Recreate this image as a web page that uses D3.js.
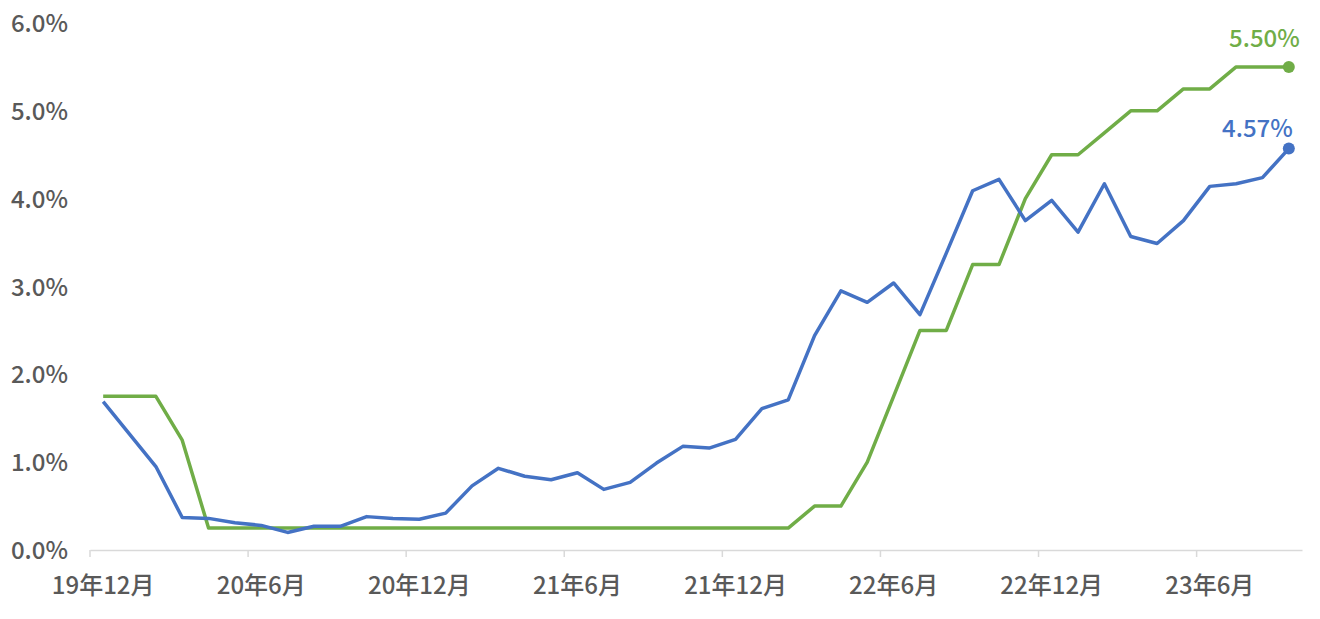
<!DOCTYPE html>
<html>
<head>
<meta charset="utf-8">
<script src="https://cdn.jsdelivr.net/npm/d3@7"></script>
<style>
  body { margin: 0; background: #fff; }
  svg text { font-family: "Noto Sans CJK JP", "Noto Sans", sans-serif; }
</style>
</head>
<body>
<script>
// month categories, 19年12月 .. 23年9月
months = [
    "19年12月",
    "20年1月", "20年2月", "20年3月", "20年4月", "20年5月", "20年6月",
    "20年7月", "20年8月", "20年9月", "20年10月", "20年11月", "20年12月",
    "21年1月", "21年2月", "21年3月", "21年4月", "21年5月", "21年6月",
    "21年7月", "21年8月", "21年9月", "21年10月", "21年11月", "21年12月",
    "22年1月", "22年2月", "22年3月", "22年4月", "22年5月", "22年6月",
    "22年7月", "22年8月", "22年9月", "22年10月", "22年11月", "22年12月",
    "23年1月", "23年2月", "23年3月", "23年4月", "23年5月", "23年6月",
    "23年7月", "23年8月", "23年9月"
];

blueValues = [
    1.69, 1.32, 0.95, 0.37, 0.36, 0.31, 0.28, 0.20, 0.27, 0.27,
    0.38, 0.36, 0.35, 0.42, 0.73, 0.93, 0.84, 0.80, 0.88, 0.69,
    0.77, 0.99, 1.18, 1.16, 1.26, 1.61, 1.71, 2.44, 2.95, 2.82,
    3.04, 2.68, 3.38, 4.09, 4.22, 3.75, 3.98, 3.62, 4.17, 3.57,
    3.49, 3.75, 4.14, 4.17, 4.24, 4.57
];

greenValues = [
    1.75, 1.75, 1.75, 1.25, 0.25, 0.25, 0.25, 0.25, 0.25, 0.25,
    0.25, 0.25, 0.25, 0.25, 0.25, 0.25, 0.25, 0.25, 0.25, 0.25,
    0.25, 0.25, 0.25, 0.25, 0.25, 0.25, 0.25, 0.50, 0.50, 1.00,
    1.75, 2.50, 2.50, 3.25, 3.25, 4.00, 4.50, 4.50, 4.75, 5.00,
    5.00, 5.25, 5.25, 5.50, 5.50, 5.50
];

yTicks = [0, 1, 2, 3, 4, 5, 6];
endLabels = ["4.57%", "5.50%"];

var width = 1320, height = 619;
var textColor = "#595959";

var svg = d3.select("body").append("svg")
    .attr("width", width)
    .attr("height", height);

var x = d3.scaleBand()
    .domain(months)
    .range([90, 1302])
    .paddingInner(0)
    .paddingOuter(0);

var y = d3.scaleLinear()
    .domain([0, 6])
    .range([550, 23]);

// y labels (no axis line)
svg.selectAll("text.ylab")
    .data(yTicks)
    .enter()
    .append("text")
    .attr("class", "ylab")
    .attr("x", 68)
    .attr("y", d => y(d) + 9)
    .attr("text-anchor", "end")
    .style("font-size", "24px")
    .style("font-weight", "500")
    .style("fill", textColor)
    .text(d => d.toFixed(1) + "%");

// x axis: labels at band centres, every 6 months
var xAxis = d3.axisBottom(x)
    .tickValues(months.filter((m, i) => i % 6 == 0))
    .tickSize(0)
    .tickPadding(27);

var gx = svg.append("g")
    .attr("transform", "translate(0," + y(0) + ")")
    .call(xAxis);
gx.select(".domain")
    .attr("stroke", "#d9d9d9")
    .attr("stroke-width", 1.5);
gx.selectAll(".tick text")
    .style("font-size", "24px")
    .style("font-weight", "500")
    .style("fill", textColor);

// tick marks sit between categories
gx.selectAll("line.cat")
    .data(months.filter((m, i) => i % 6 == 0))
    .enter()
    .append("line")
    .attr("class", "cat")
    .attr("x1", d => x(d))
    .attr("x2", d => x(d))
    .attr("y1", 0)
    .attr("y2", 7)
    .attr("stroke", "#d9d9d9")
    .attr("stroke-width", 1.5);

var line = d3.line()
    .x((d, i) => x(months[i]) + x.bandwidth() / 2)
    .y(d => y(d));

var series = [
    {values: greenValues, color: "#70AD47", label: endLabels[1], dx: 11, dy: -20},
    {values: blueValues, color: "#4472C4", label: endLabels[0], dx: 4, dy: -12}
];

series.forEach(function(s) {
    svg.append("path")
        .datum(s.values)
        .attr("d", line)
        .attr("fill", "none")
        .attr("stroke", s.color)
        .attr("stroke-width", 3.5)
        .attr("stroke-linejoin", "round");

    var last = s.values.length - 1;
    var cx = x(months[last]) + x.bandwidth() / 2;
    var cy = y(s.values[last]);
    svg.append("circle")
        .attr("cx", cx)
        .attr("cy", cy)
        .attr("r", 6)
        .attr("fill", s.color);
    svg.append("text")
        .attr("x", cx + s.dx)
        .attr("y", cy + s.dy)
        .attr("text-anchor", "end")
        .style("font-size", "24px")
        .style("font-weight", "500")
        .style("fill", s.color)
        .text(s.label);
});
</script>
</body>
</html>
